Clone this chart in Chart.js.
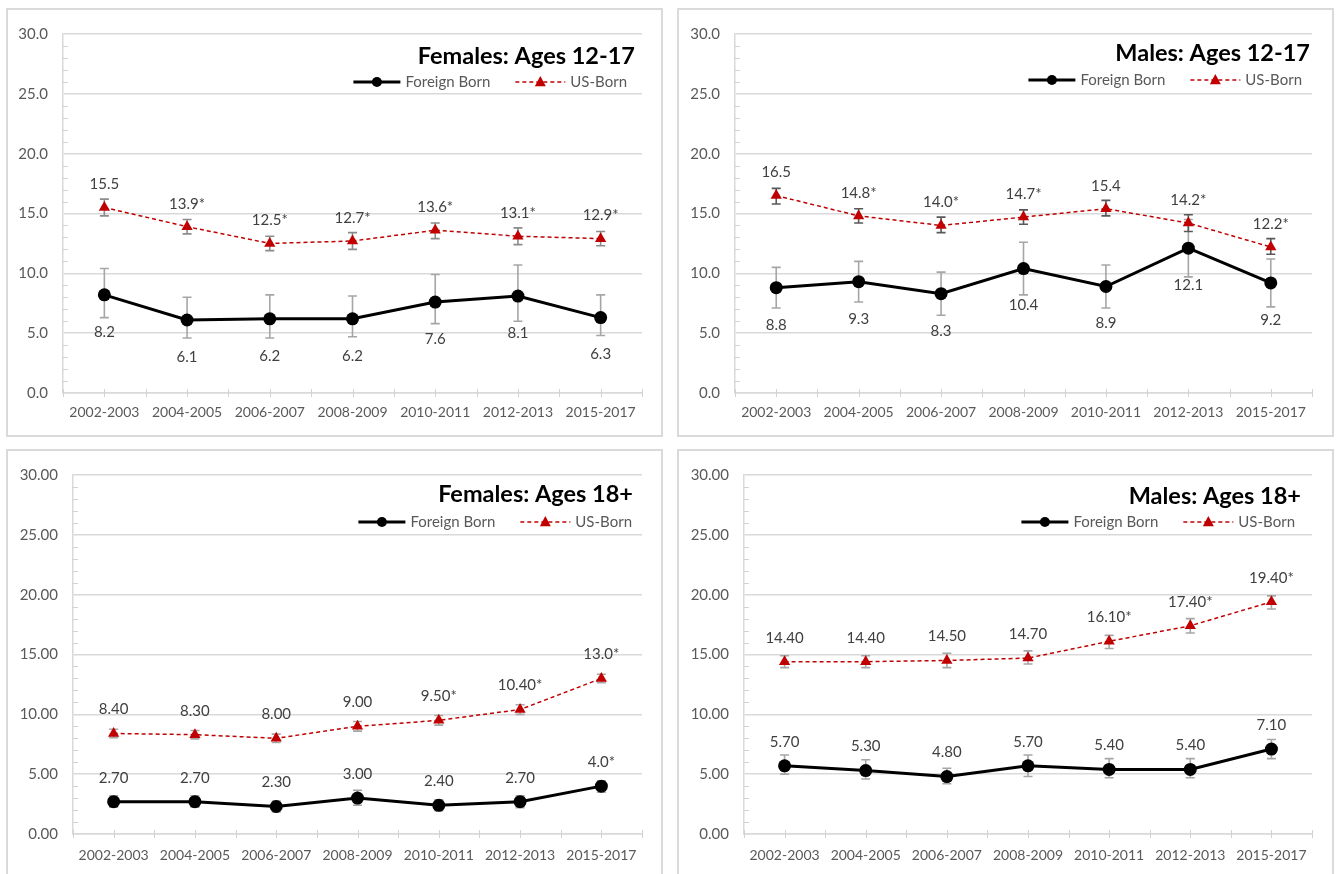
<!DOCTYPE html>
<html><head><meta charset="utf-8">
<script src="https://cdn.jsdelivr.net/npm/chart.js@4.4.1/dist/chart.umd.min.js"></script>
<style>
html,body{margin:0;padding:0;background:#fff;width:1337px;height:874px;overflow:hidden}
.panel{position:absolute;box-sizing:border-box;border:2px solid #dadada;background:#fff}
.panel canvas{display:block}
</style></head><body>
<div class="panel" style="left:6px;top:8px;width:657px;height:429px"><canvas id="c1" width="653" height="425"></canvas></div>
<div class="panel" style="left:677px;top:8px;width:657px;height:429px"><canvas id="c2" width="653" height="425"></canvas></div>
<div class="panel" style="left:6px;top:449px;width:657px;height:430px"><canvas id="c3" width="653" height="426"></canvas></div>
<div class="panel" style="left:677px;top:449px;width:657px;height:430px"><canvas id="c4" width="653" height="426"></canvas></div>
<script>
// ---------- DATA ----------
const periods = ['2002-2003','2004-2005','2006-2007','2008-2009','2010-2011','2012-2013','2015-2017'];
const seriesNames = ['Foreign Born','US-Born'];
const panelTitles = ['Females: Ages 12-17','Males: Ages 12-17','Females: Ages 18+','Males: Ages 18+'];
const teenTickLabels = ['0.0','5.0','10.0','15.0','20.0','25.0','30.0'];
const adultTickLabels = ['0.00','5.00','10.00','15.00','20.00','25.00','30.00'];

// Females 12-17
const femTeenForeign = [8.2, 6.1, 6.2, 6.2, 7.6, 8.1, 6.3];
const femTeenForeignLow = [6.3, 4.6, 4.6, 4.7, 5.8, 6.0, 4.8];
const femTeenForeignHigh = [10.4, 8.0, 8.2, 8.1, 9.9, 10.7, 8.2];
const femTeenForeignLabels = ['8.2','6.1','6.2','6.2','7.6','8.1','6.3'];
const femTeenUS = [15.5, 13.9, 12.5, 12.7, 13.6, 13.1, 12.9];
const femTeenUSLow = [14.8, 13.3, 11.9, 12.0, 12.9, 12.4, 12.3];
const femTeenUSHigh = [16.2, 14.5, 13.1, 13.4, 14.2, 13.8, 13.5];
const femTeenUSLabels = ['15.5','13.9*','12.5*','12.7*','13.6*','13.1*','12.9*'];

// Males 12-17
const maleTeenForeign = [8.8, 9.3, 8.3, 10.4, 8.9, 12.1, 9.2];
const maleTeenForeignLow = [7.1, 7.6, 6.5, 8.2, 7.1, 9.7, 7.2];
const maleTeenForeignHigh = [10.5, 11.0, 10.1, 12.6, 10.7, 14.5, 11.2];
const maleTeenForeignLabels = ['8.8','9.3','8.3','10.4','8.9','12.1','9.2'];
const maleTeenUS = [16.5, 14.8, 14.0, 14.7, 15.4, 14.2, 12.2];
const maleTeenUSLow = [15.8, 14.2, 13.4, 14.1, 14.8, 13.5, 11.6];
const maleTeenUSHigh = [17.1, 15.4, 14.7, 15.3, 16.1, 14.9, 12.9];
const maleTeenUSLabels = ['16.5','14.8*','14.0*','14.7*','15.4','14.2*','12.2*'];

// Females 18+
const femAdultForeign = [2.7, 2.7, 2.3, 3.0, 2.4, 2.7, 4.0];
const femAdultForeignLow = [2.25, 2.25, 1.85, 2.4, 1.95, 2.2, 3.5];
const femAdultForeignHigh = [3.2, 3.2, 2.75, 3.65, 2.85, 3.2, 4.45];
const femAdultForeignLabels = ['2.70','2.70','2.30','3.00','2.40','2.70','4.0*'];
const femAdultUS = [8.4, 8.3, 8.0, 9.0, 9.5, 10.4, 13.0];
const femAdultUSLow = [8.05, 7.95, 7.65, 8.6, 9.1, 10.0, 12.65];
const femAdultUSHigh = [8.75, 8.65, 8.35, 9.4, 9.9, 10.8, 13.35];
const femAdultUSLabels = ['8.40','8.30','8.00','9.00','9.50*','10.40*','13.0*'];

// Males 18+
const maleAdultForeign = [5.7, 5.3, 4.8, 5.7, 5.4, 5.4, 7.1];
const maleAdultForeignLow = [5.0, 4.6, 4.2, 4.8, 4.7, 4.7, 6.3];
const maleAdultForeignHigh = [6.6, 6.2, 5.5, 6.6, 6.3, 6.3, 7.9];
const maleAdultForeignLabels = ['5.70','5.30','4.80','5.70','5.40','5.40','7.10'];
const maleAdultUS = [14.4, 14.4, 14.5, 14.7, 16.1, 17.4, 19.4];
const maleAdultUSLow = [13.9, 13.9, 13.9, 14.2, 15.5, 16.8, 18.8];
const maleAdultUSHigh = [14.9, 14.9, 15.1, 15.3, 16.6, 18.0, 19.9];
const maleAdultUSLabels = ['14.40','14.40','14.50','14.70','16.10*','17.40*','19.40*'];

// ---------- STYLE / LAYOUT ----------
Chart.defaults.font.family = 'Lato, "Open Sans", sans-serif';
const FONT = 'Lato, "Open Sans", sans-serif';
const RED = '#C00000';

function drawMarker(ctx, type, x, y, r, color) {
  ctx.fillStyle = color;
  ctx.beginPath();
  if (type === 'circle') {
    ctx.arc(x, y, r, 0, Math.PI * 2);
  } else {
    ctx.moveTo(x, y - r * 1.1);
    ctx.lineTo(x + r, y + r * 0.75);
    ctx.lineTo(x - r, y + r * 0.75);
    ctx.closePath();
  }
  ctx.fill();
}

const overlayPlugin = {
  id: 'overlay',
  beforeDatasetsDraw(chart) {
    const {ctx, chartArea: a, scales: {x, y}} = chart;
    ctx.save();
    ctx.strokeStyle = '#d2d2d2';
    ctx.lineWidth = 1;
    for (let v = 1; v < 30; v++) {
      if (v % 5 === 0) continue;
      const py = Math.round(y.getPixelForValue(v)) + 0.5;
      ctx.beginPath(); ctx.moveTo(a.left, py); ctx.lineTo(a.left + 5, py); ctx.stroke();
    }
    const n = chart.data.labels.length;
    for (let i = -0.5; i <= n - 0.5 + 1e-6; i += 0.5) {
      const px = Math.round(x.getPixelForValue(i)) + 0.5;
      ctx.beginPath(); ctx.moveTo(px, a.bottom - 4); ctx.lineTo(px, a.bottom + 4); ctx.stroke();
    }
    chart.data.datasets.forEach((ds, di) => {
      const meta = chart.getDatasetMeta(di);
      ctx.strokeStyle = ds.errColor;
      ctx.lineWidth = 1.6;
      meta.data.forEach((pt, i) => {
        const px = pt.x;
        const yl = y.getPixelForValue(ds.errLow[i]);
        const yh = y.getPixelForValue(ds.errHigh[i]);
        ctx.beginPath();
        ctx.moveTo(px, yl); ctx.lineTo(px, yh);
        ctx.moveTo(px - 4.5, yl); ctx.lineTo(px + 4.5, yl);
        ctx.moveTo(px - 4.5, yh); ctx.lineTo(px + 4.5, yh);
        ctx.stroke();
      });
    });
    ctx.restore();
  },
  afterDatasetsDraw(chart, args, opts) {
    const {ctx, chartArea: a} = chart;
    ctx.save();
    ctx.font = '15px ' + FONT;
    ctx.fillStyle = '#404040';
    ctx.textAlign = 'center';
    ctx.textBaseline = 'middle';
    chart.data.datasets.forEach((ds, di) => {
      const meta = chart.getDatasetMeta(di);
      meta.data.forEach((pt, i) => {
        ctx.fillText(ds.valueLabels[i], pt.x, pt.y + ds.labelOffset);
      });
    });
    ctx.font = 'bold 23.5px ' + FONT;
    ctx.fillStyle = '#000';
    ctx.textAlign = 'right';
    ctx.fillText(opts.title, a.right - opts.titleInset, a.top + opts.titleDy);
    ctx.font = '15px ' + FONT;
    const ly = a.top + opts.legendDy;
    const usW = ctx.measureText(seriesNames[1]).width;
    const fW = ctx.measureText(seriesNames[0]).width;
    const usTextX = a.right - opts.legendInset - usW;
    const usLineEnd = usTextX - 5, usLineStart = usLineEnd - 50;
    const fTextEnd = usLineStart - 25, fTextX = fTextEnd - fW;
    const fLineEnd = fTextX - 5, fLineStart = fLineEnd - 47;
    ctx.fillStyle = '#595959';
    ctx.textAlign = 'left';
    ctx.fillText(seriesNames[0], fTextX, ly);
    ctx.fillText(seriesNames[1], usTextX, ly);
    ctx.strokeStyle = '#000'; ctx.lineWidth = 3;
    ctx.beginPath(); ctx.moveTo(fLineStart, ly); ctx.lineTo(fLineEnd, ly); ctx.stroke();
    drawMarker(ctx, 'circle', (fLineStart + fLineEnd) / 2, ly, 5, '#000');
    ctx.strokeStyle = RED; ctx.lineWidth = 1.5; ctx.setLineDash([4, 3]);
    ctx.beginPath(); ctx.moveTo(usLineStart, ly); ctx.lineTo(usLineEnd, ly); ctx.stroke();
    ctx.setLineDash([]);
    drawMarker(ctx, 'triangle', (usLineStart + usLineEnd) / 2, ly, 5.5, RED);
    ctx.restore();
  }
};

function makeChart(id, cfg) {
  const datasets = [
    {
      label: seriesNames[0], data: cfg.foreign, errLow: cfg.foreignLow, errHigh: cfg.foreignHigh,
      valueLabels: cfg.foreignLabels, labelOffset: cfg.foreignLabelOffset, errColor: '#a6a6a6',
      borderColor: '#000', backgroundColor: '#000', borderWidth: 3,
      pointStyle: 'circle', pointRadius: 6.5, pointBackgroundColor: '#000', pointBorderWidth: 0,
      tension: 0, order: 2
    },
    {
      label: seriesNames[1], data: cfg.us, errLow: cfg.usLow, errHigh: cfg.usHigh,
      valueLabels: cfg.usLabels, labelOffset: cfg.usLabelOffset, errColor: cfg.usErrColor,
      borderColor: RED, backgroundColor: RED, borderWidth: 1.5, borderDash: [4, 3],
      pointStyle: 'triangle', pointRadius: 6.5, pointBackgroundColor: RED, pointBorderWidth: 0,
      tension: 0, order: 1
    }
  ];
  return new Chart(document.getElementById(id), {
    type: 'line',
    data: {labels: periods, datasets},
    options: {
      responsive: false, animation: false,
      layout: {padding: {top: 19, right: cfg.padRight, left: 0, bottom: 0}},
      plugins: {
        legend: {display: false}, tooltip: {enabled: false},
        overlay: {title: cfg.title, titleInset: cfg.titleInset, titleDy: cfg.titleDy,
                  legendInset: cfg.legendInset, legendDy: cfg.legendDy}
      },
      scales: {
        x: {
          type: 'category', offset: true,
          grid: {display: false, drawTicks: false},
          border: {display: true, color: '#d9d9d9', width: 1.5},
          ticks: {color: '#595959', font: {size: 14}, padding: cfg.xPad, maxRotation: 0, autoSkip: false},
          afterFit: s => { s.height = cfg.xHeight; }
        },
        y: {
          min: 0, max: 30,
          grid: {color: '#d9d9d9', lineWidth: 1.5, drawTicks: false},
          border: {display: true, color: '#d9d9d9', width: 1.5},
          ticks: {stepSize: 5, color: '#595959', font: {size: 15}, padding: 15,
                  callback: v => cfg.tickLabels[Math.round(v / 5)]},
          afterFit: s => { s.width = cfg.yWidth; }
        }
      }
    },
    plugins: [overlayPlugin]
  });
}

makeChart('c1', {
  title: panelTitles[0], tickLabels: teenTickLabels,
  foreign: femTeenForeign, foreignLow: femTeenForeignLow, foreignHigh: femTeenForeignHigh, foreignLabels: femTeenForeignLabels,
  us: femTeenUS, usLow: femTeenUSLow, usHigh: femTeenUSHigh, usLabels: femTeenUSLabels,
  foreignLabelOffset: 37, usLabelOffset: -23, usErrColor: '#8c8c8c',
  yWidth: 55, xHeight: 42, padRight: 19, xPad: 11,
  titleInset: 7, titleDy: 22, legendInset: 15, legendDy: 48
});
makeChart('c2', {
  title: panelTitles[1], tickLabels: teenTickLabels,
  foreign: maleTeenForeign, foreignLow: maleTeenForeignLow, foreignHigh: maleTeenForeignHigh, foreignLabels: maleTeenForeignLabels,
  us: maleTeenUS, usLow: maleTeenUSLow, usHigh: maleTeenUSHigh, usLabels: maleTeenUSLabels,
  foreignLabelOffset: 37, usLabelOffset: -23, usErrColor: '#595959',
  yWidth: 56, xHeight: 42, padRight: 20, xPad: 11,
  titleInset: 2, titleDy: 19, legendInset: 10, legendDy: 46
});
makeChart('c3', {
  title: panelTitles[2], tickLabels: adultTickLabels,
  foreign: femAdultForeign, foreignLow: femAdultForeignLow, foreignHigh: femAdultForeignHigh, foreignLabels: femAdultForeignLabels,
  us: femAdultUS, usLow: femAdultUSLow, usHigh: femAdultUSHigh, usLabels: femAdultUSLabels,
  foreignLabelOffset: -24, usLabelOffset: -24, usErrColor: '#a6a6a6',
  yWidth: 65, xHeight: 43, padRight: 19, xPad: 13,
  titleInset: 9, titleDy: 19, legendInset: 10, legendDy: 47
});
makeChart('c4', {
  title: panelTitles[3], tickLabels: adultTickLabels,
  foreign: maleAdultForeign, foreignLow: maleAdultForeignLow, foreignHigh: maleAdultForeignHigh, foreignLabels: maleAdultForeignLabels,
  us: maleAdultUS, usLow: maleAdultUSLow, usHigh: maleAdultUSHigh, usLabels: maleAdultUSLabels,
  foreignLabelOffset: -24, usLabelOffset: -24, usErrColor: '#a6a6a6',
  yWidth: 65, xHeight: 43, padRight: 20, xPad: 13,
  titleInset: 11, titleDy: 21, legendInset: 17, legendDy: 47
});
</script>
</body></html>
